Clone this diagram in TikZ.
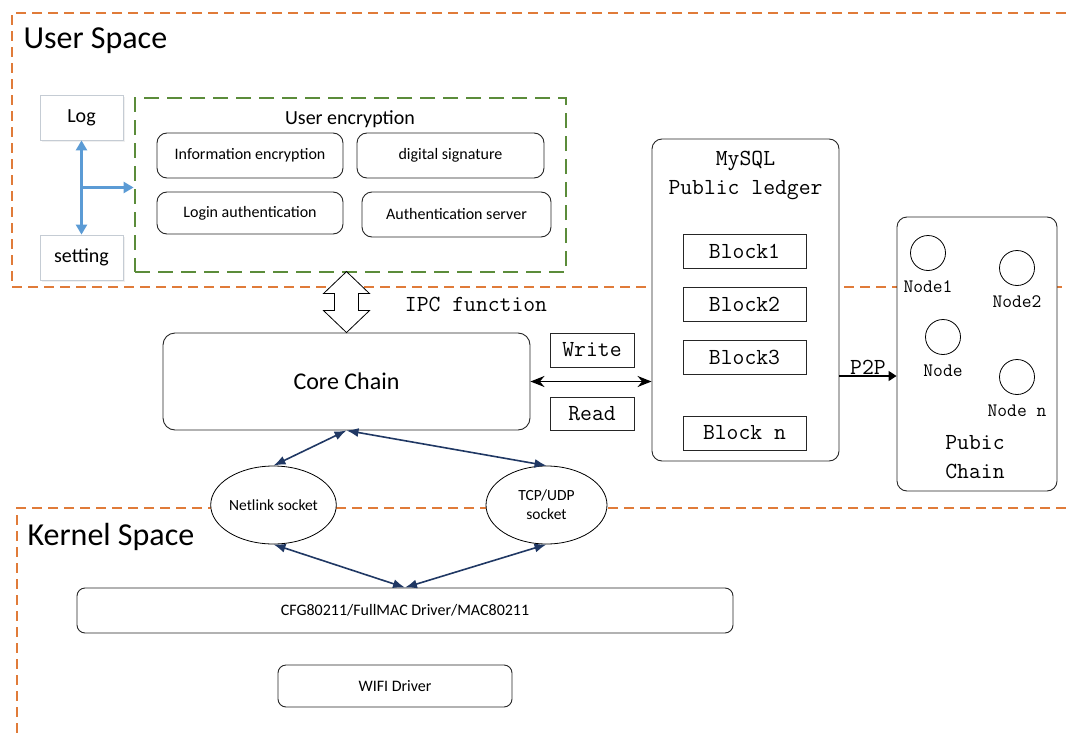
\documentclass[tikz,border=0pt]{standalone}
\usepackage{fontspec}
\setmainfont{Carlito}
\usepackage{tikz}
\usetikzlibrary{arrows.meta,calc,shapes.geometric,shadows}
\definecolor{zone}{HTML}{E07B39}
\definecolor{encgreen}{HTML}{5B8C3A}
\definecolor{linkblue}{HTML}{5B9BD5}
\definecolor{navy}{HTML}{203864}
\definecolor{softgray}{HTML}{C5CCD4}
\definecolor{ink}{HTML}{262626}
\tikzset{
  zoneline/.style={draw=zone, line width=1.2pt, dash pattern=on 10pt off 6pt},
  encbox/.style={draw=encgreen, line width=2.8pt, dash pattern=on 15pt off 8pt, inner sep=0pt},
  soft/.style={draw=softgray, fill=white, line width=0.8pt, inner sep=0pt,
    font=\fontsize{20}{24}\selectfont,
    drop shadow={opacity=0.12, shadow xshift=1.5pt, shadow yshift=-1.5pt}},
  rbox/.style={draw=ink, fill=white, rounded corners=10pt, line width=0.9pt, inner sep=0pt,
    font=\fontsize{16}{19}\selectfont},
  sq/.style={draw=ink, fill=white, line width=0.9pt, inner sep=0pt,
    font=\ttfamily\fontsize{23}{27}\selectfont},
  sock/.style={ellipse, draw=black, fill=white, line width=0.8pt, inner sep=0pt,
    align=center, font=\fontsize{15.5}{19}\selectfont},
  peer/.style={circle, draw=black, fill=white, line width=0.8pt, minimum size=35pt, inner sep=0pt},
  monolab/.style={font=\ttfamily\fontsize{23}{29}\selectfont, align=center},
  peerlab/.style={font=\ttfamily\fontsize{19}{23}\selectfont},
  ipc/.style={draw=black, fill=white, line width=0.8pt, line join=miter},
  tipB/.tip={Triangle[length=10pt,width=11pt]},
  linkB/.style={draw=linkblue, line width=2.4pt},
  linkN/.style={draw=navy, line width=1.6pt,
    {Latex[length=12pt,width=9pt]}-{Latex[length=12pt,width=9pt]}},
  linkK/.style={draw=black, line width=1.6pt,
    {Stealth[length=14pt,width=11pt]}-{Stealth[length=14pt,width=11pt]}},
  linkP/.style={draw=black, line width=1.4pt, -{Triangle[length=8pt,width=10pt]}}
}
\begin{document}
\begin{tikzpicture}[x=1pt,y=-1pt]
  \useasboundingbox (0,0) rectangle (1066,736);

  % user / kernel space borders
  \draw[zoneline] (1066,13) -- (12,13) -- (12,287) -- (1066,287);
  \draw[zoneline] (1066,508) -- (17,508) -- (17,736);
  \node[anchor=west, font=\fontsize{32}{36}\selectfont] (us) at (20,41) {User Space};
  \node[anchor=west, font=\fontsize{32}{36}\selectfont] (ks) at (24,537) {Kernel Space};

  % user encryption group
  \node[encbox, minimum width=431pt, minimum height=174pt] (enc) at (350.5,185) {};
  \node[font=\fontsize{20}{24}\selectfont] (enctitle) at (350,119) {User encryption};
  \node[rbox, minimum width=186pt, minimum height=45pt] (info) at (250,155.5) {Information encryption};
  \node[rbox, minimum width=187pt, minimum height=45pt] (sig) at (450.5,155.5) {digital signature};
  \node[rbox, minimum width=186pt, minimum height=42pt] (login) at (250,213) {Login authentication};
  \node[rbox, minimum width=189pt, minimum height=45pt] (auth) at (456.5,214.5) {Authentication server};

  \node[soft, minimum width=83pt, minimum height=45pt] (log) at (81.5,117.5) {Log};
  \node[soft, minimum width=83pt, minimum height=45pt] (set) at (81.5,257.5) {setting};
  \coordinate (fork) at ($(log)!0.5!(set)$);
  \draw[linkB, tipB-tipB] (log) -- (set);
  \draw[linkB, -tipB] (fork) -- (fork -| enc.west);

  % core chain and ledger
  \node[rbox, rounded corners=12pt, minimum width=367pt, minimum height=97pt,
    font=\fontsize{24}{28}\selectfont] (core) at (346.5,381.5) {Core Chain};
  \begin{scope}[shift={(core.north)}]
    \draw[ipc] (0,-61) -- (23,-39) -- (12,-39) -- (12,-22) -- (23,-22) -- (0,0)
      -- (-23,-22) -- (-12,-22) -- (-12,-39) -- (-23,-39) -- cycle;
  \end{scope}
  \node[monolab] (ipclab) at (476,304) {IPC function};

  \node[sq, minimum width=84pt, minimum height=34pt] (write) at (592,350) {Write};
  \node[sq, minimum width=84pt, minimum height=33pt] (read) at (592,413.5) {Read};

  \node[rbox, minimum width=187pt, minimum height=322pt] (mysql) at (745.5,300) {};
  \node[monolab] (ledger) at (745.5,175) {MySQL\\Public ledger};
  \node[sq, minimum width=123pt, minimum height=34pt] (b1) at (744.5,251) {Block1};
  \node[sq, minimum width=123pt, minimum height=34pt] (b2) at (744.5,304) {Block2};
  \node[sq, minimum width=123pt, minimum height=34pt] (b3) at (744.5,357) {Block3};
  \node[sq, minimum width=123pt, minimum height=34pt] (bn) at (744.5,433) {Block n};

  \draw[linkK] (core.east) -- (core.east -| mysql.west);

  % public chain
  \node[rbox, minimum width=160pt, minimum height=274pt] (pub) at (977,354) {};
  \node[peer, label={[peerlab, label distance=6pt]below:Node1}] (n1) at (928,253) {};
  \node[peer, label={[peerlab, label distance=6pt]below:Node2}] (n2) at (1017,268) {};
  \node[peer, label={[peerlab, label distance=6pt]below:Node}] (n3) at (943,337) {};
  \node[peer, label={[peerlab, label distance=6pt]below:Node n}] (n4) at (1017,377) {};
  \node[monolab] (pubname) at (975,457) {Pubic\\Chain};

  \coordinate (lvl) at (0,376);
  \draw[linkP] (mysql.east |- lvl) -- (pub.west |- lvl)
    node[midway, above, monolab, inner sep=1pt] {P2P};

  % sockets and drivers
  \node[sock, minimum width=123pt, minimum height=78pt] (net) at (273.5,505) {Netlink socket};
  \node[sock, minimum width=121pt, minimum height=78pt] (tcp) at (546.5,505) {TCP/UDP\\socket};
  \node[rbox, rounded corners=8pt, minimum width=656pt, minimum height=45pt,
    font=\fontsize{16}{19}\selectfont] (cfg) at (405,610.5) {CFG80211/FullMAC Driver/MAC80211};
  \node[rbox, rounded corners=8pt, minimum width=234pt, minimum height=42pt] (wifi) at (395,686) {WIFI Driver};

  \draw[linkN] (core.south) -- (net.north);
  \draw[linkN] (core.south) -- (tcp.north);
  \draw[linkN] (net.south) -- (cfg.north);
  \draw[linkN] (tcp.south) -- (cfg.north);
\end{tikzpicture}
\end{document}
